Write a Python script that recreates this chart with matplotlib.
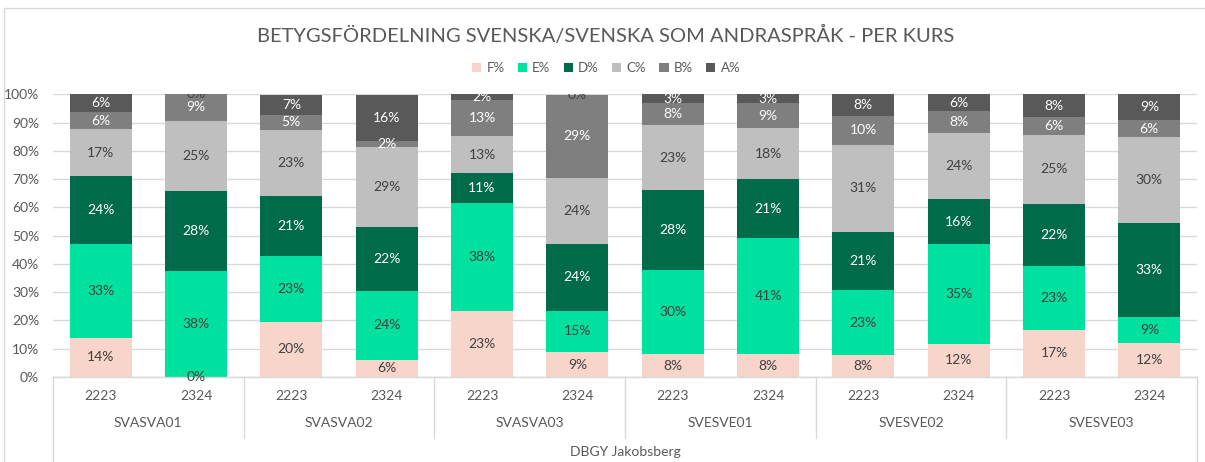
import matplotlib
matplotlib.use("Agg")
import matplotlib.pyplot as plt
from matplotlib.patches import Rectangle
from matplotlib.lines import Line2D
import numpy as np

plt.rcParams['font.family'] = ['Lato', 'DejaVu Sans']

courses = ["SVASVA01", "SVASVA02", "SVASVA03", "SVESVE01", "SVESVE02", "SVESVE03"]
years = ["2223", "2324"]
school = "DBGY Jakobsberg"
grades = ["F%", "E%", "D%", "C%", "B%", "A%"]

# values per bar (course x year order), in percent
F = [13.8, 0.0, 19.6, 6.1, 23.4, 8.8, 8.0, 8.0, 7.7, 11.8, 16.7, 12.1]
E = [33.2, 37.6, 23.2, 24.4, 38.3, 14.7, 30.0, 41.0, 23.1, 35.3, 22.7, 9.1]
D = [24.1, 28.1, 21.4, 22.4, 10.6, 23.5, 28.0, 21.0, 20.6, 15.7, 21.7, 33.3]
C = [16.6, 25.0, 23.2, 28.6, 12.8, 23.5, 23.0, 18.0, 30.7, 23.5, 24.6, 30.3]
B = [5.9, 9.3, 5.4, 2.0, 12.8, 29.4, 8.0, 9.0, 10.3, 7.8, 6.3, 6.1]
A = [6.4, 0.0, 7.1, 16.3, 2.1, 0.0, 3.0, 3.0, 7.7, 5.9, 8.0, 9.1]

series = [F, E, D, C, B, A]
colors = ["#F7D5CA", "#00E09E", "#006B4B", "#BFBFBF", "#7F7F7F", "#595959"]
label_colors = ["#404040", "#404040", "#FFFFFF", "#404040", "#FFFFFF", "#FFFFFF"]
txt = "#595959"
grid = "#D9D9D9"

W, H = 1205, 462
fig = plt.figure(figsize=(W / 100, H / 100), dpi=100)
fig.patch.set_facecolor("white")

# outer chart border
fig.add_artist(Rectangle((4 / W, -0.01), 1.02, (H - 8) / H + 0.01, transform=fig.transFigure,
                         fill=False, edgecolor="#D9D9D9", linewidth=1.0))

left_px, right_px, y0_px, y100_px = 53, 1197, 377, 94.3
ax = fig.add_axes([left_px / W, (H - y0_px) / H, (right_px - left_px) / W, (y0_px - y100_px) / H])

n = len(F)
x = np.arange(n)
bottom = np.zeros(n)
for vals, col, lc, name in zip(series, colors, label_colors, grades):
    vals = np.array(vals)
    ax.bar(x, vals, 0.65, bottom=bottom, color=col, label=name, zorder=2)
    for xi, b, v in zip(x, bottom, vals):
        yc = b + v / 2
        clip = yc > 99
        ax.text(xi, yc, f"{v:.0f}%", ha="center", va="center", fontsize=10,
                color=lc if v > 0 else "#404040", zorder=3, clip_on=clip)
    bottom += vals

ax.set_xlim(-0.5, n - 0.5)
ax.set_ylim(0, 100)
ax.set_yticks(np.arange(0, 101, 10))
ax.set_yticklabels([f"{t}%" for t in range(0, 101, 10)], color=txt, fontsize=10)
ax.tick_params(axis="y", length=0, pad=10)
ax.set_xticks([])
ax.yaxis.grid(True, color=grid, linewidth=1.0, zorder=0)
ax.set_axisbelow(True)
for s in ["top", "right", "left"]:
    ax.spines[s].set_visible(False)
ax.spines["bottom"].set_color(grid)
ax.spines["bottom"].set_linewidth(1.0)

ax_h = y0_px - y100_px
def ay(py):
    return -(py - y0_px) / ax_h

trans = ax.get_xaxis_transform()
# year labels
for i in range(n):
    ax.text(x[i], ay(396), years[i % 2], transform=trans, ha="center", va="center",
            fontsize=10, color=txt, clip_on=False)
# course labels
for g, c in enumerate(courses):
    ax.text(2 * g + 0.5, ay(423), c, transform=trans, ha="center", va="center",
            fontsize=10, color=txt, clip_on=False)
# school label
ax.text((n - 1) / 2, ay(452), school, transform=trans, ha="center", va="center",
        fontsize=10, color=txt, clip_on=False)
# divider lines
for g in range(len(courses) + 1):
    xb = 2 * g - 0.5
    end = 462 if g in (0, len(courses)) else 438
    ax.add_line(Line2D([xb, xb], [0, ay(end)], transform=trans, color=grid,
                       linewidth=1.0, clip_on=False))

fig.text(0.503, 1 - 35 / H, "BETYGSFÖRDELNING SVENSKA/SVENSKA SOM ANDRASPRÅK - PER KURS",
         ha="center", va="center", fontsize=14.5, color=txt)

leg = fig.legend(loc="center", bbox_to_anchor=(0.503, 1 - 68 / H), ncol=6, frameon=False,
                 fontsize=9.5, handlelength=0.7, handleheight=0.7, handletextpad=0.4,
                 columnspacing=1.0, labelcolor=txt)

fig.savefig("out.png", dpi=100, facecolor="white")
